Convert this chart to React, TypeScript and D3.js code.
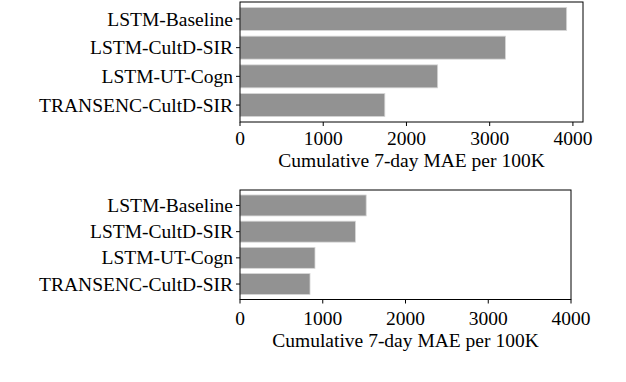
import React from "react";
import * as d3 from "d3";

const categories = ["LSTM-Baseline", "LSTM-CultD-SIR", "LSTM-UT-Cogn", "TRANSENC-CultD-SIR"];
const topValues = [3925, 3190, 2375, 1740];
const bottomValues = [1525, 1395, 906, 846];
const xTicks = [0, 1000, 2000, 3000, 4000];
const xLabel = "Cumulative 7-day MAE per 100K";

const FONT = "'Liberation Serif', 'Times New Roman', serif";
const FS = 19.5;

type PanelProps = {
  values: number[];
  xMax: number;
  left: number;
  right: number;
  top: number;
  bottom: number;
  tickBaseline: number;
  labelBaseline: number;
};

function Panel({ values, xMax, left, right, top, bottom, tickBaseline, labelBaseline }: PanelProps) {
  const x = d3.scaleLinear().domain([0, xMax]).range([left, right]);
  const y = d3.scaleBand<string>().domain(categories).range([top, bottom]).paddingInner(0.2).paddingOuter(0.19);
  return (
    <g>
      {categories.map((c, i) => (
        <rect
          key={c}
          x={x(0)}
          y={y(c)!}
          width={x(values[i]) - x(0)}
          height={y.bandwidth()}
          fill="#929292"
          stroke="#d6d6d6"
          strokeWidth={0.8}
        />
      ))}
      <rect x={left} y={top} width={right - left} height={bottom - top} fill="none" stroke="#000" strokeWidth={1} />
      {categories.map((c) => {
        const cy = y(c)! + y.bandwidth() / 2;
        return (
          <g key={"yt" + c}>
            <line x1={left - 4} x2={left} y1={cy} y2={cy} stroke="#000" strokeWidth={1} />
            <text x={left - 7} y={cy} dy="0.34em" textAnchor="end" fontFamily={FONT} fontSize={FS} fill="#000">
              {c}
            </text>
          </g>
        );
      })}
      {xTicks.map((t) => (
        <g key={"xt" + t}>
          <line x1={x(t)} x2={x(t)} y1={bottom} y2={bottom + 4} stroke="#000" strokeWidth={1} />
          <text x={x(t)} y={tickBaseline} textAnchor="middle" fontFamily={FONT} fontSize={FS} fill="#000">
            {t}
          </text>
        </g>
      ))}
      <text x={(left + right) / 2} y={labelBaseline} textAnchor="middle" fontFamily={FONT} fontSize={FS} fill="#000">
        {xLabel}
      </text>
    </g>
  );
}

export default function App() {
  const topMax = (d3.max(topValues) ?? 0) * 1.05;
  return (
    <svg
      width={626}
      height={382}
      style={{ position: "absolute", left: 0, top: 0, background: "#fff" }}
    >
      <rect x={0} y={0} width={626} height={382} fill="#fff" />
      <Panel values={topValues} xMax={topMax} left={240} right={583} top={2} bottom={122} tickBaseline={145} labelBaseline={167} />
      <Panel values={bottomValues} xMax={4000} left={240} right={571} top={190} bottom={299.5} tickBaseline={325} labelBaseline={347} />
    </svg>
  );
}
